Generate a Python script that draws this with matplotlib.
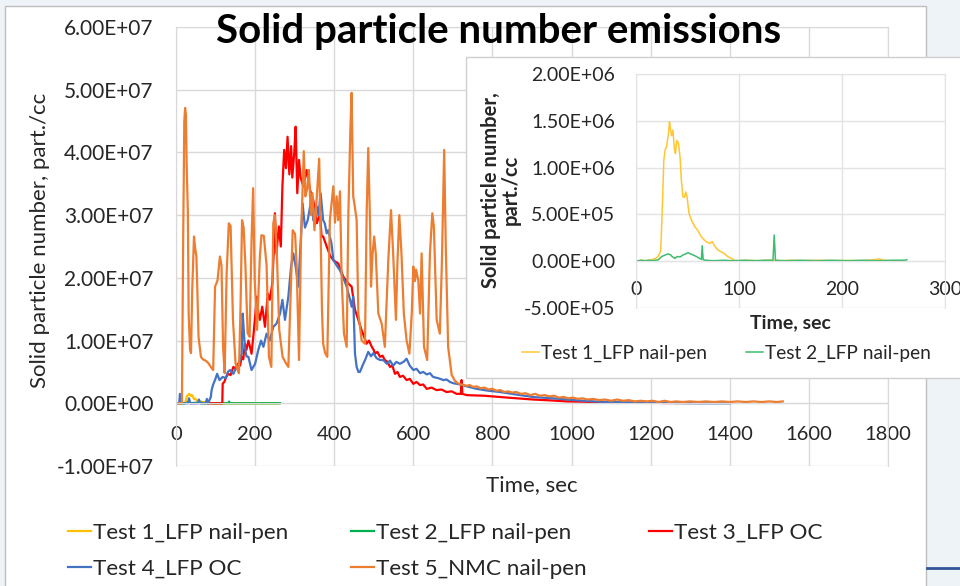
import matplotlib
matplotlib.use("Agg")
import matplotlib.pyplot as plt
from matplotlib.patches import Rectangle
from matplotlib.lines import Line2D
from matplotlib.ticker import FuncFormatter
import numpy as np

plt.rcParams['font.family'] = ['Lato', 'DejaVu Sans']

# ---- data (main chart values in 1e7 part./cc, inset values in 1e5 part./cc) ----
labels = ["Test 1_LFP nail-pen", "Test 2_LFP nail-pen", "Test 3_LFP OC",
          "Test 4_LFP OC", "Test 5_NMC nail-pen"]

t1 = [0, 5, 10, 15, 19, 21.5, 24, 25.8, 27, 28.3, 29.6, 31.5, 32.5, 33.4, 34.5,
      35.8, 37.4, 38.3, 39.6, 41.2, 42.8, 44, 45.5, 47, 48.3, 49.5, 51.5, 53.8,
      57, 60, 63.4, 67.9, 71.6, 74, 76.5, 79.5, 82.7, 86, 89, 92, 95.5, 100,
      110, 120, 130, 140, 150, 160, 175, 190, 205, 220, 232, 236, 240, 250, 258]
n1 = [0, 0.1, 0.05, 0.15, 0.3, 0.5, 1.1, 6.5, 10.8, 11.9, 12.2, 13.6, 14.9, 14.2,
      13.4, 14.0, 11.9, 11.5, 12.9, 12.6, 11.1, 8.7, 6.9, 6.8, 7.4, 6.9, 5.1, 4.4,
      3.7, 3.3, 2.6, 2.1, 1.9, 2.1, 1.6, 1.2, 1.0, 0.8, 0.5, 0.35, 0.1, 0.05,
      0.1, 0.05, 0.1, 0.05, 0.1, 0.05, 0.1, 0.05, 0.08, 0.05, 0.15, 0.25, 0.1,
      0.05, 0.05]

t2 = [0, 5, 8, 12, 16, 21.6, 25, 28, 31, 33.4, 35, 37.7, 40, 42.8, 45.7, 48.3,
      50.5, 52.8, 55.4, 58.6, 61.8, 63.5, 64.3, 65.2, 68, 75, 85, 95, 105, 115,
      125, 133, 134.2, 135.4, 145, 160, 175, 190, 205, 220, 235, 250, 260, 263]
n2 = [0, 0.1, 0.05, 0.1, 0.05, 0.15, 0.5, 0.65, 0.78, 0.7, 0.5, 0.3, 0.5, 0.45,
      0.67, 0.78, 0.92, 0.78, 0.67, 0.5, 0.3, 0.2, 1.65, 0.15, 0.1, 0.05, 0.1,
      0.05, 0.1, 0.05, 0.1, 0.1, 2.8, 0.1, 0.05, 0.1, 0.05, 0.1, 0.05, 0.1,
      0.05, 0.1, 0.1, 0.15]

t3 = [80, 117, 118, 122, 127, 132, 138, 145, 151, 157.5, 162, 166, 170, 174, 178,
      183, 187, 191, 196, 200, 204, 208, 212, 218, 225, 232, 237, 243.5, 247,
      250, 254, 260, 265, 269, 273.5, 278, 282, 286.6, 291, 294, 299, 302.5,
      306.6, 311, 315, 322, 330, 339, 347, 356, 364, 368, 372, 381, 390, 398,
      410, 423, 435.6, 444, 452.5, 461, 469, 482, 488, 495, 500, 503, 509, 516,
      522, 528, 535, 541, 547, 553.6, 560, 566, 574, 583, 591, 600, 608, 617,
      625, 634, 646, 659, 671, 684, 697, 709.5, 720, 722, 724, 735, 780, 819,
      860, 903, 950, 988, 1030, 1072, 1156, 1230, 1300]
n3 = [0, 0, 0.31, 0.34, 0.42, 0.47, 0.45, 0.58, 0.55, 0.63, 0.6, 0.74, 0.7, 0.95,
      0.85, 1.0, 0.9, 0.79, 1.1, 1.38, 1.70, 1.45, 1.33, 1.54, 1.22, 1.75, 1.65,
      1.91, 2.4, 3.03, 2.39, 2.82, 2.5, 3.46, 4.04, 3.75, 4.25, 3.65, 4.1, 3.6,
      4.0, 4.41, 3.35, 3.88, 3.6, 3.46, 3.72, 3.4, 3.24, 2.87, 3.03, 2.66, 2.66,
      2.5, 2.35, 2.28, 2.23, 2.02, 1.91, 1.86, 1.49, 1.33, 1.17, 0.95, 1.0, 0.9,
      0.85, 0.79, 0.82, 0.74, 0.76, 0.69, 0.66, 0.58, 0.6, 0.47, 0.5, 0.42,
      0.44, 0.37, 0.39, 0.31, 0.34, 0.29, 0.3, 0.23, 0.25, 0.21, 0.22, 0.18,
      0.19, 0.15, 0.15, 0.37, 0.15, 0.13, 0.12, 0.10, 0.08, 0.06, 0.045, 0.03,
      0.025, 0.015, 0.01, 0.005, 0.005]

t4 = [0, 8, 10, 12, 30, 33, 36, 55, 58, 61, 75, 78, 81, 88, 90, 94, 98.6, 104,
      110, 118, 126, 131, 136.5, 145, 153, 162, 166, 168.5, 171, 174, 178, 183,
      191, 200, 208, 215, 221, 229, 237, 246, 254, 263, 269, 275.5, 284, 291,
      296.5, 302.5, 309, 316, 320, 326, 333, 339, 343, 347, 352, 356, 360,
      365.6, 372, 376, 381, 385, 393, 398, 406, 414.5, 423, 431.5, 440, 444,
      448, 452.5, 456.7, 461, 465, 473.5, 478, 486, 493, 499, 507, 515.7, 524,
      533, 541, 549, 557, 566, 575, 583, 591, 600, 608, 617, 625, 634, 642,
      650, 663, 676, 684, 692.6, 701, 718, 735, 760, 790, 819, 860, 903, 950,
      988, 1030, 1072, 1156, 1250, 1320, 1400]
n4 = [0, 0, 0.15, 0, 0, 0.08, 0, 0, 0.06, 0, 0, 0.07, 0, 0.1, 0.21, 0.3, 0.37,
      0.47, 0.37, 0.42, 0.40, 0.5, 0.53, 0.47, 0.58, 0.69, 0.8, 1.43, 1.2, 0.9,
      0.75, 0.74, 0.53, 0.63, 0.85, 1.0, 0.9, 1.11, 1.0, 1.22, 1.27, 1.43, 1.65,
      1.33, 1.70, 2.18, 2.39, 2.18, 1.86, 2.66, 3.19, 2.8, 2.92, 3.14, 3.35,
      2.92, 3.1, 3.14, 3.0, 3.35, 2.92, 2.87, 2.71, 2.76, 2.55, 2.28, 2.2, 2.12,
      2.0, 1.86, 1.65, 1.54, 1.70, 0.79, 0.58, 0.5, 0.5, 0.63, 0.69, 0.82,
      0.75, 0.80, 0.72, 0.69, 0.69, 0.63, 0.68, 0.6, 0.66, 0.63, 0.66, 0.71,
      0.6, 0.53, 0.55, 0.48, 0.5, 0.46, 0.48, 0.42, 0.4, 0.37, 0.38, 0.34,
      0.32, 0.3, 0.27, 0.23, 0.2, 0.18, 0.14, 0.10, 0.08, 0.06, 0.04, 0.025,
      0.01, 0.005, 0.0, 0.0]

t5 = [0, 10, 15, 18, 21, 23, 25, 27, 30, 32, 35.5, 38, 41, 45.5, 48, 51.5, 54,
      57, 63, 68, 75, 82, 88, 94, 98.8, 105, 111, 115, 119, 123, 128, 133.5,
      138, 144, 150.5, 155, 159, 163, 167, 171, 175.5, 181, 186, 191, 195, 199,
      205, 212, 216, 222, 229, 235, 241, 246, 250, 255, 261, 269.5, 277, 284,
      291, 295, 301, 305, 311, 316, 320, 323, 327, 331, 336, 341, 345, 350,
      355, 362, 366, 369, 372, 377, 382.5, 389, 397.7, 402, 406, 410, 414.5,
      419, 424.7, 431.5, 435.6, 438, 441, 444, 448, 452, 456.7, 461, 469.4,
      477.8, 482, 486, 490, 493, 497, 501, 505, 511.5, 520, 528, 536.7, 543.5,
      549, 556, 560, 564.5, 570, 576, 583, 590, 596, 600, 604, 607, 612.5, 617,
      621, 627, 635, 642, 648, 652, 659, 667, 672, 678, 682, 688, 697, 705,
      712, 720, 728, 735, 743, 751, 760, 770, 780, 790, 800, 810, 820, 830,
      840, 850, 860, 872, 884, 896, 908, 920, 932, 944, 956, 968, 980, 992,
      1004, 1016, 1028, 1040, 1055, 1070, 1085, 1100, 1115, 1130, 1145, 1160,
      1175, 1190, 1205, 1220, 1235, 1250, 1265, 1280, 1300, 1320, 1340, 1360,
      1380, 1400, 1420, 1440, 1460, 1480, 1500, 1520, 1534]
n5 = [0, 0, 0, 2.5, 4.5, 4.71, 4.6, 3.8, 3.03, 1.43, 0.85, 0.8, 1.8, 2.66, 2.5,
      2.34, 1.8, 1.06, 0.74, 0.7, 0.68, 0.64, 0.58, 0.53, 1.86, 1.96, 2.34, 2.2,
      0.9, 0.48, 2.07, 2.87, 2.83, 1.33, 0.64, 0.55, 0.48, 1.5, 2.92, 2.8, 2.2,
      1.12, 1.06, 2.6, 3.43, 1.96, 1.17, 2.34, 2.68, 2.67, 2.2, 0.74, 0.58,
      2.87, 3.0, 2.4, 1.17, 0.74, 0.65, 0.58, 1.96, 2.76, 2.7, 2.2, 0.69, 2.6,
      3.4, 4.02, 3.3, 3.4, 3.72, 3.0, 3.35, 2.76, 3.2, 3.9, 2.6, 1.5, 0.95, 0.8,
      0.74, 2.92, 3.46, 2.88, 3.3, 2.92, 3.38, 1.96, 1.11, 0.9, 2.98, 3.64, 4.4,
      4.95, 3.3, 3.14, 2.92, 1.43, 1.0, 0.95, 3.03, 4.07, 3.03, 1.86, 2.39,
      2.66, 2.39, 1.43, 1.27, 0.9, 2.28, 3.08, 2.39, 1.33, 2.28, 3.0, 2.39,
      1.43, 1.0, 0.79, 1.43, 2.18, 1.95, 2.13, 1.96, 1.43, 2.39, 0.9, 0.69,
      2.39, 3.03, 2.81, 1.33, 1.11, 2.2, 4.04, 2.5, 0.9, 0.45, 0.36, 0.32, 0.3,
      0.29, 0.28, 0.29, 0.26, 0.27, 0.24, 0.25, 0.22, 0.23, 0.2, 0.21, 0.18,
      0.19, 0.17, 0.18, 0.15, 0.16, 0.13, 0.15, 0.12, 0.13, 0.11, 0.12, 0.09,
      0.1, 0.08, 0.09, 0.07, 0.08, 0.06, 0.07, 0.05, 0.06, 0.04, 0.06, 0.04,
      0.05, 0.03, 0.04, 0.03, 0.04, 0.02, 0.04, 0.02, 0.03, 0.02, 0.03, 0.02,
      0.03, 0.02, 0.03, 0.02, 0.03, 0.02, 0.03, 0.02, 0.03, 0.02, 0.03]

main_colors = ['#FFC000', '#00B050', '#FF0000', '#4472C4', '#ED7D31']
inset_colors = ['#FFC533', '#3DBB6E']

W, H = 960, 586
GRID = '#d9d9d9'
TXT = '#262626'


def fx(px):
    return px / W


def fy(py):
    return 1 - py / H


fig = plt.figure(figsize=(9.6, 5.86), dpi=100)
fig.patch.set_facecolor('#eef3f8')

# white chart area of the slide
fig.add_artist(Rectangle((fx(5), -0.02), fx(921), fy(6) + 0.02, transform=fig.transFigure,
                         facecolor='white', edgecolor='#bfbfbf', lw=1, zorder=-1))
fig.add_artist(Line2D([fx(927), 1], [fy(568), fy(568)], transform=fig.transFigure,
                      color='#2F5597', lw=2, zorder=-1))

# ---- main chart ----
ax = fig.add_axes([fx(176), fy(466), fx(888 - 176), (466 - 27) / H])
ax.set_facecolor('white')
scale7 = 1e7
series = [(t1, n1, 1e5), (t2, n2, 1e5), (t3, n3, scale7), (t4, n4, scale7), (t5, n5, scale7)]
handles = []
for (t, n, s), c, lab in zip(series, main_colors, labels):
    h, = ax.plot(t, np.array(n) * s, color=c, lw=1.6, label=lab)
    handles.append(h)

ax.set_xlim(0, 1800)
ax.set_ylim(-1e7, 6e7)
ax.set_xticks(np.arange(0, 1801, 200))
ax.set_yticks(np.arange(-1e7, 6.01e7, 1e7))
ax.yaxis.set_major_formatter(FuncFormatter(lambda v, p: '{:.2E}'.format(v)))
ax.grid(True, color=GRID, lw=1)
ax.set_axisbelow(True)
for s in ax.spines.values():
    s.set_color(GRID)
ax.spines['bottom'].set_position(('data', 0))
ax.tick_params(length=0, labelcolor=TXT)
ax.tick_params(axis='x', pad=16, labelsize=14.5)
ax.tick_params(axis='y', pad=16, labelsize=15)
ax.set_xlabel('Time, sec', fontsize=16, color=TXT)
ax.xaxis.set_label_coords(0.5, -(485 - 466) / (466 - 27))
ax.xaxis.label.set_va('center')
ax.set_ylabel('Solid particle number, part./cc', fontsize=16, color=TXT)
ax.yaxis.set_label_coords((40 - 176) / (888 - 176), (466 - 240) / (466 - 27))
ax.yaxis.label.set_va('center')

fig.text(fx(499), fy(43), 'Solid particle number emissions', ha='center', va='baseline',
         fontsize=29, fontweight='bold', color='black')

order = [0, 3, 1, 4, 2]
fig.legend([handles[i] for i in order], [labels[i] for i in order], ncol=3,
           loc='upper left', bbox_to_anchor=(fx(68), fy(523)), frameon=False,
           fontsize=16.2, handlelength=1.0, handletextpad=0.1, columnspacing=2.8,
           labelspacing=0.69, borderpad=0, borderaxespad=0, labelcolor=TXT)

# ---- inset chart ----
fig.add_artist(Rectangle((fx(466), fy(378)), fx(W - 466) + 0.01, (378 - 57) / H,
                         transform=fig.transFigure, facecolor='white',
                         edgecolor='#cfcfcf', lw=1, zorder=1))
ax2 = fig.add_axes([fx(636), fy(308), fx(945 - 636), (308 - 74) / H])
ax2.set_zorder(2)
ax2.set_facecolor('white')
ih = []
for (t, n), c, lab in zip([(t1, n1), (t2, n2)], inset_colors, labels[:2]):
    h, = ax2.plot(t, np.array(n) * 1e5, color=c, lw=1.1, label=lab)
    ih.append(h)
ax2.set_xlim(0, 300)
ax2.set_ylim(-5e5, 2e6)
ax2.set_xticks([0, 100, 200, 300])
ax2.set_yticks(np.arange(-5e5, 2.01e6, 5e5))
ax2.yaxis.set_major_formatter(FuncFormatter(lambda v, p: '{:.2E}'.format(v)))
ax2.grid(True, color='#e3e3e3', lw=1)
ax2.set_axisbelow(True)
for s in ax2.spines.values():
    s.set_color('#e3e3e3')
ax2.spines['bottom'].set_position(('data', 0))
ax2.tick_params(length=0, labelsize=14, labelcolor=TXT)
ax2.tick_params(axis='x', pad=14)
ax2.tick_params(axis='y', pad=15)
ax2.set_xlabel('Time, sec', fontsize=14, fontweight='bold', color=TXT)
ax2.xaxis.set_label_coords((790 - 636) / (945 - 636), -(323 - 308) / (308 - 74))
ax2.xaxis.label.set_va('center')
ax2.set_ylabel('Solid particle number,\npart./cc', fontsize=14.5, fontweight='bold',
               color=TXT, linespacing=1.0)
ax2.yaxis.set_label_coords((501 - 636) / (945 - 636), (308 - 190) / (308 - 74))
ax2.yaxis.label.set_va('center')
ax2.legend(ih, labels[:2], ncol=2, loc='upper left',
           bbox_to_anchor=(fx(522), fy(345)), bbox_transform=fig.transFigure,
           frameon=False, fontsize=13.8, handlelength=0.9, handletextpad=0.1,
           columnspacing=2.0, borderpad=0, borderaxespad=0, labelcolor=TXT)

fig.savefig('out.png', dpi=100)
